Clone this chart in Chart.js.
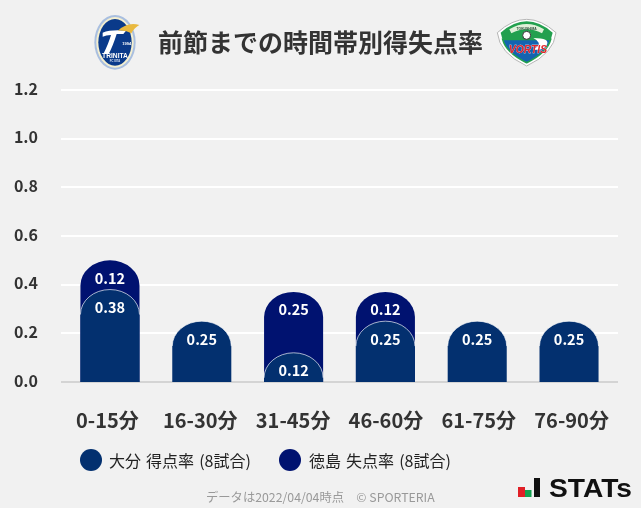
<!DOCTYPE html>
<html>
<head>
<meta charset="utf-8">
<script src="https://cdn.jsdelivr.net/npm/chart.js@4"></script>
<style>
  html, body { margin: 0; padding: 0; background: #f1f1f1; }
  body { width: 641px; height: 508px; overflow: hidden; position: relative; font-family: "Noto Sans CJK JP", "Noto Sans", sans-serif; color: #222; }
  canvas { position: absolute; left: 0; top: 0; }
  .abs { position: absolute; white-space: nowrap; }
  #title { left: 158px; top: 22px; font-size: 25px; line-height: 38px; font-weight: 700; color: #333; }
  .dot { width: 22px; height: 22px; border-radius: 50%; top: 449px; }
  .leg { top: 449px; font-size: 16px; line-height: 23px; word-spacing: 1.5px; color: #222; }
  #foot { left: 206px; top: 488px; font-size: 12.3px; line-height: 18px; color: #999; }
</style>
</head>
<body>
<canvas id="chart0" width="641" height="508"></canvas>

<svg class="abs" style="left:86px;top:10px" width="65" height="65" viewBox="0 0 195 195">
  <ellipse cx="87" cy="97" rx="62" ry="82" fill="#a9bfe0"/>
  <ellipse cx="87" cy="97" rx="56" ry="76" fill="#f4efd0"/>
  <ellipse cx="87" cy="97" rx="50" ry="70" fill="#0a3a8a"/>
  <path d="M50 68 Q75 58 120 62 L112 72 L92 72 Q80 110 68 132 L52 132 Q68 100 75 75 Q60 75 50 80 Z" fill="#fff"/>
  <path d="M96 62 Q125 35 160 45 Q146 52 136 70 Q120 60 96 62 Z" fill="#e9b93f"/>
  <text x="122" y="104" font-size="12" font-weight="700" fill="#fff" text-anchor="middle" font-family="Liberation Sans">1994</text>
  <text x="87" y="144" font-size="20" font-weight="700" fill="#fff" text-anchor="middle" font-family="Liberation Sans">TRINITA</text>
  <text x="87" y="156" font-size="8" font-weight="700" fill="#d8e2f2" text-anchor="middle" font-family="Liberation Sans">FC OITA</text>
</svg>

<div id="title" class="abs">前節までの時間帯別得失点率</div>

<svg class="abs" style="left:490px;top:10px" width="75" height="60" viewBox="0 0 225 180">
  <path d="M22 68 Q110 -12 198 68 Q192 130 110 168 Q28 130 22 68 Z" fill="#fff" stroke="#b4b4b4" stroke-width="3"/>
  <path d="M32 68 Q110 0 188 68 L182 90 L38 90 Z" fill="#22a04e"/>
  <path d="M58 58 Q110 26 162 58 L156 70 Q110 46 64 70 Z" fill="#dff0d8"/>
  <path d="M38 88 L182 88 Q172 128 110 158 Q48 128 38 88 Z" fill="#1463b0" stroke="#22a04e" stroke-width="5"/>
  <path d="M130 84 Q182 84 170 106 Q158 124 128 118 Q150 108 146 98 Q142 90 130 84 Z" fill="#fff"/>
  <circle cx="110" cy="76" r="12" fill="#fff" stroke="#333" stroke-width="3"/>
  <text x="110" y="60" font-size="10" font-weight="700" fill="#2b4a3a" text-anchor="middle" font-family="Liberation Sans">TOKUSHIMA</text>
  <text x="114" y="130" font-size="31" font-weight="700" font-style="italic" fill="#e4252b" stroke="#fff" stroke-width="1" paint-order="stroke" text-anchor="middle" font-family="Liberation Sans">VORTIS</text>
</svg>

<div id="dotA" class="abs dot" style="left:80px"></div>
<div id="legA" class="abs leg" style="left:109px"></div>
<div id="dotB" class="abs dot" style="left:279px"></div>
<div id="legB" class="abs leg" style="left:309px"></div>
<div id="foot" class="abs">データは2022/04/04時点　© SPORTERIA</div>

<svg class="abs" style="left:510px;top:470px" width="131" height="36" viewBox="0 0 131 36">
  <rect x="8" y="17" width="7" height="10" fill="#e01f26"/>
  <rect x="15" y="20" width="6.5" height="7" fill="#12a150"/>
  <rect x="24" y="8" width="6" height="19" fill="#111"/>
  <text x="39" y="27" font-size="26" font-weight="700" fill="#111" font-family="Liberation Sans" textLength="83" lengthAdjust="spacingAndGlyphs">STATs</text>
</svg>

<script>
const categories = ['0-15分', '16-30分', '31-45分', '46-60分', '61-75分', '76-90分'];
const oitaScored = [0.38, 0.25, 0.12, 0.25, 0.25, 0.25];
const tokushimaConceded = [0.12, 0, 0.25, 0.12, 0, 0];
const yTicks = [0, 0.2, 0.4, 0.6, 0.8, 1.0, 1.2];
const oitaLabel = '大分 得点率 (8試合)';
const tokushimaLabel = '徳島 失点率 (8試合)';
const oitaColor = '#03306f';
const tokushimaColor = '#001270';

document.getElementById('dotA').style.background = oitaColor;
document.getElementById('dotB').style.background = tokushimaColor;
document.getElementById('legA').textContent = oitaLabel;
document.getElementById('legB').textContent = tokushimaLabel;

//bar with a dome shaped top, the cap is wider than a normal corner radius allows
class DomeBar extends Chart.BarElement {
  static id = 'domeBar';
  draw(ctx) {
    const {x, y, base, width} = this.getProps(['x', 'y', 'base', 'width']);
    if (Math.abs(base - y) < 0.5) return;
    const floor = this.floor;
    const capH = Math.min(25, floor - y);
    const half = width / 2;
    ctx.save();
    ctx.beginPath();
    ctx.moveTo(x - half, floor);
    ctx.lineTo(x - half, y + capH);
    ctx.ellipse(x, y + capH, half, capH, 0, Math.PI, 2 * Math.PI);
    ctx.lineTo(x + half, floor);
    ctx.closePath();
    ctx.fillStyle = this.options.backgroundColor;
    ctx.fill();
    if (this.options.borderWidth > 0) {
      ctx.beginPath();
      ctx.ellipse(x, y + capH, half, capH, 0, Math.PI, 2 * Math.PI);
      ctx.strokeStyle = this.options.borderColor;
      ctx.lineWidth = this.options.borderWidth;
      ctx.stroke();
    }
    ctx.restore();
  }
}

class DomeController extends Chart.BarController {
  static id = 'dome';
  static defaults = {dataElementType: 'domeBar'};
  updateElements(bars, start, count, mode) {
    super.updateElements(bars, start, count, mode);
    //every dome runs down to zero, the upper series sits behind the lower one
    const floor = this._cachedMeta.vScale.getPixelForValue(0);
    const xs = this._cachedMeta.iScale;
    const mid = (xs.left + xs.right) / 2;
    bars.forEach(b => {
      b.floor = floor;
      //reference bars sit slightly tighter than their tick labels
      b.x = mid + (b.x - mid) * 0.989;
    });
  }
}

Chart.register(DomeBar, DomeController);

//white value text inside the top of each bar
const valueLabels = {
  id: 'valueLabels',
  afterDatasetsDraw(chart) {
    const ctx = chart.ctx;
    ctx.save();
    ctx.font = '700 14.5px "Noto Sans CJK JP"';
    ctx.fillStyle = '#fff';
    ctx.textAlign = 'center';
    ctx.textBaseline = 'middle';
    chart.data.datasets.forEach((ds, i) => {
      chart.getDatasetMeta(i).data.forEach((bar, j) => {
        if (ds.data[j] > 0) ctx.fillText(ds.data[j].toFixed(2), bar.x, bar.y + 18);
      });
    });
    ctx.restore();
  }
};

new Chart(document.getElementById('chart0').getContext('2d'), {
  type: 'dome',
  data: {
    labels: categories,
    datasets: [
      {
        label: oitaLabel,
        data: oitaScored,
        backgroundColor: oitaColor,
        borderColor: 'rgba(255,255,255,0.65)',
        borderWidth: 1
      },
      {
        label: tokushimaLabel,
        data: tokushimaConceded,
        backgroundColor: tokushimaColor,
        borderWidth: 0
      }
    ]
  },
  plugins: [valueLabels],
  options: {
    responsive: false,
    animation: false,
    categoryPercentage: 1,
    barPercentage: 0.636,
    layout: {padding: {top: 90, right: 23, left: 0, bottom: 0}},
    plugins: {legend: {display: false}, title: {display: false}, tooltip: {enabled: false}},
    scales: {
      x: {
        stacked: true,
        grid: {display: false},
        border: {display: false},
        afterFit(axis) { axis.height = 126; },
        ticks: {
          color: '#333',
          padding: 18,
          maxRotation: 0,
          font: {family: '"Noto Sans CJK JP"', size: 20, weight: '700'}
        }
      },
      y: {
        stacked: true,
        min: 0,
        max: 1.2,
        afterFit(axis) { axis.width = 61; },
        afterBuildTicks(axis) { axis.ticks = yTicks.map(v => ({value: v})); },
        grid: {
          drawTicks: false,
          lineWidth: 2,
          color: c => (c.tick.value === 0 ? '#d4d4d4' : '#ffffff')
        },
        border: {display: false},
        ticks: {
          color: '#333',
          padding: 23,
          callback: v => [v.toFixed(1), ''],
          font: {family: '"Noto Sans CJK JP"', size: 16, weight: '700', lineHeight: '3px'}
        }
      }
    }
  }
});
</script>
</body>
</html>
